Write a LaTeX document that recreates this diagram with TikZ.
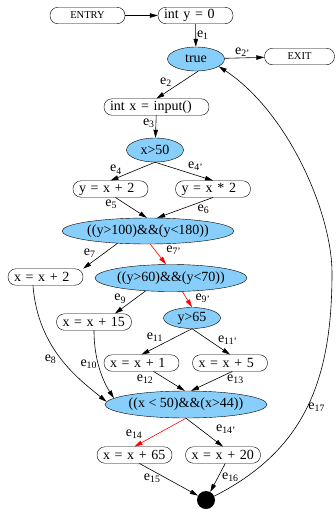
\documentclass[tikz,border=0pt]{standalone}
\usepackage{fontspec}
\setmainfont{Liberation Serif}
\usetikzlibrary{arrows.meta,positioning,shapes.geometric}
\definecolor{condfill}{RGB}{135,206,250}

\begin{document}
\begin{tikzpicture}[x=1pt, y=-1pt,
  stmt/.style={draw, rounded corners=8pt, minimum height=16.5pt, inner xsep=6pt, inner ysep=0pt, text width=63pt, align=left, font=\fontsize{14}{16}\selectfont},
  term/.style={draw, rounded corners=8pt, minimum height=16.5pt, minimum width=75pt, inner sep=0pt, font=\fontsize{10.5}{12}\selectfont},
  cond/.style={draw, ellipse, fill=condfill, minimum width=57pt, minimum height=24pt, inner sep=0pt, font=\fontsize{14}{16}\selectfont},
  arr/.style={-{Triangle[length=8pt, width=4.5pt]}, line width=0.6pt},
  hot/.style={arr, red},
  lab/.style={inner sep=1pt, text=black, font=\fontsize{14}{16}\selectfont}
]
  \useasboundingbox (0,0) rectangle (335,509);
  \node[term] (entry) at (87.5,15.5) {ENTRY};
  \node[stmt] (inty) at (195.5,15.5) {int y = 0};
  \node[cond] (loop) at (196,59) {true};
  \node[term, minimum width=70pt] (exit) at (299.5,56.5) {EXIT};
  \node[stmt, text width=93pt] (intx) at (156.5,107) {int x = input()};
  \node[cond] (xg50) at (155,150) {x>50};
  \node[stmt] (ya) at (110.5,189) {y = x + 2};
  \node[stmt] (yb) at (213,189) {y = x * 2};
  \node[cond, minimum width=150pt, minimum height=26pt] (ca) at (148,231) {((y>100)\&\&(y<180))};
  \node[stmt] (xa) at (45.5,277) {x = x + 2};
  \node[cond, minimum width=150pt, minimum height=27pt] (cb) at (171,278) {((y>60)\&\&(y<70))};
  \node[stmt] (xb) at (94,322) {x = x + 15};
  \node[cond, minimum height=21pt] (yg65) at (192,318) {y>65};
  \node[stmt] (xc) at (141.5,363) {x = x + 1};
  \node[stmt] (xd) at (230,363) {x = x + 5};
  \node[cond, minimum width=150pt, minimum height=27pt] (cc) at (186,404.5) {((x < 50)\&\&(x>44))};
  \node[stmt] (xe) at (134.5,455) {x = x + 65};
  \node[stmt] (xf) at (223,455) {x = x + 20};
  \node[circle, fill=black, minimum size=18pt, inner sep=0pt] (sink) at (206,500) {};

  \draw[arr] (entry) -- (inty);
  \draw[arr] (inty) -- node[lab, right] {e\textsubscript{1}} (loop);
  \draw[arr] (loop) -- node[lab, above, pos=.45] {e\textsubscript{2'}} (exit);
  \draw[arr] (loop.-80) -- node[lab, above left, pos=.6] {e\textsubscript{2}} (intx.north);
  \draw[arr] (intx) -- node[lab, left, pos=.35] {e\textsubscript{3}} (xg50);
  \draw[arr] (xg50.south) -- node[lab, above left, pos=.72] {e\textsubscript{4}} (ya.north);
  \draw[arr] (xg50.south) -- node[lab, above right, pos=.55] {e\textsubscript{4'}} (yb.north);
  \draw[arr] (ya.-60) -- node[lab, left=8pt, pos=.35] {e\textsubscript{5}} (ca.95);
  \draw[arr] (yb.south) -- node[lab, below right, pos=.3] {e\textsubscript{6}} (ca.55);
  \draw[arr] (ca.-158) -- node[lab, above left, pos=.6] {e\textsubscript{7}} (xa.north east);
  \draw[hot] (ca.-80) -- node[lab, right=10pt, pos=.3] {e\textsubscript{7'}} (cb.110);
  \draw[arr] (xa.-146) .. controls (38,350) and (80,380) .. node[lab, left=4pt, pos=.5] {e\textsubscript{8}} (cc.178);
  \draw[arr] (cb.-153) -- node[lab, above left, pos=.6] {e\textsubscript{9}} (xb.22);
  \draw[hot] (cb.-50) -- node[lab, right=8pt, pos=.4] {e\textsubscript{9'}} (yg65.north);
  \draw[arr] (xb.south) .. controls (94,365) and (106,386) .. node[lab, left, pos=.38] {e\textsubscript{10}} (cc.175);
  \draw[arr] (yg65.south) -- node[lab, above left, pos=.55] {e\textsubscript{11}} (xc.north);
  \draw[arr] (yg65.south) -- node[lab, above right, pos=.65] {e\textsubscript{11'}} (xd.north);
  \draw[arr] (xc.-35) -- node[lab, left=12pt, pos=.42] {e\textsubscript{12}} (cc.95);
  \draw[arr] (xd.-75) -- node[lab, right=11pt, pos=.42] {e\textsubscript{13}} (cc.70);
  \draw[hot] (cc.south) -- node[lab, left=14pt, pos=.55] {e\textsubscript{14}} (xe.north);
  \draw[arr] (cc.south) -- node[lab, right=14pt, pos=.4] {e\textsubscript{14'}} (xf.north);
  \draw[arr] (xe.-60) -- node[lab, left=4pt, pos=.45] {e\textsubscript{15}} (sink);
  \draw[arr] (xf.-75) -- node[lab, right=3pt, pos=.5] {e\textsubscript{16}} (sink);
  \draw[arr] (sink.25) .. controls (305,450) and (332,380) .. node[lab, right, pos=.5] {e\textsubscript{17}} (332,273)
    .. controls (332,213) and (288,112) .. (loop.-18);
\end{tikzpicture}
\end{document}
